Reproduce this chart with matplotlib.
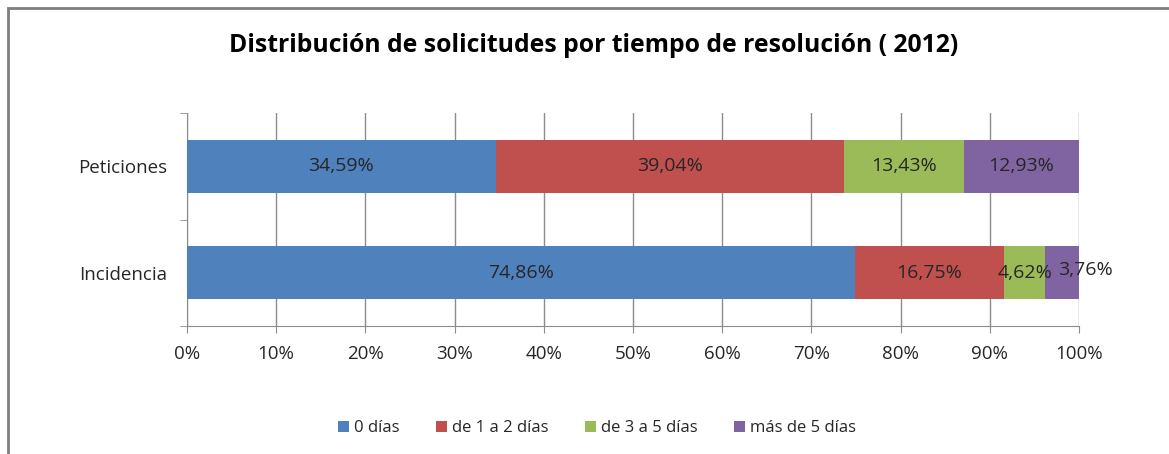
import matplotlib

matplotlib.use("Agg")
import matplotlib.pyplot as plt  # noqa: E402
from matplotlib.patches import Rectangle  # noqa: E402

categories = ["Incidencia", "Peticiones"]
series_names = ["0 días", "de 1 a 2 días", "de 3 a 5 días", "más de 5 días"]
dias_0 = [74.86, 34.59]
dias_1_2 = [16.75, 39.04]
dias_3_5 = [4.62, 13.43]
dias_mas_5 = [3.76, 12.93]
colors = ["#4F81BD", "#C0504D", "#9BBB59", "#8064A2"]
xticks = [0, 10, 20, 30, 40, 50, 60, 70, 80, 90, 100]

plt.rcParams["font.family"] = ["Open Sans", "DejaVu Sans"]
TEXT = "#262626"
GRID = "#8c8c8c"

fig = plt.figure(figsize=(11.69, 4.54), dpi=100)
ax = fig.add_axes([187 / 1169, 1 - 326 / 454, (1079 - 187) / 1169, (326 - 113) / 454])

# outer chart frame (only top and left edges are inside the picture)
fig.add_artist(Rectangle((8 / 1169, -0.1), 1.2, 1 - 8 / 454 + 0.1,
                         transform=fig.transFigure, fill=False,
                         edgecolor="#7f7f7f", lw=2))

left = [0.0, 0.0]
for name, vals, col in zip(series_names, [dias_0, dias_1_2, dias_3_5, dias_mas_5], colors):
    bars = ax.barh(range(len(categories)), vals, left=left, height=0.5,
                   color=col, label=name, zorder=3)
    for i, b in enumerate(bars):
        label = f"{vals[i]:.2f}%".replace(".", ",")
        yc = b.get_y() + b.get_height() / 2
        if vals[i] < 4 and name == series_names[-1]:
            # too narrow: the label spills out to the right of its segment
            ax.annotate(label, (b.get_x(), yc), xytext=(9, 2), textcoords="offset points",
                        ha="left", va="center", fontsize=14, color=TEXT, zorder=4,
                        annotation_clip=False)
        else:
            ax.text(b.get_x() + b.get_width() / 2, yc, label,
                    ha="center", va="center", fontsize=14, color=TEXT, zorder=4)
    left = [l + v for l, v in zip(left, vals)]

ax.set_xlim(0, 100)
ax.set_ylim(-0.5, 1.5)
ax.set_xticks(xticks)
ax.set_xticklabels([f"{t}%" for t in xticks], fontsize=13.5, color=TEXT)
ax.set_yticks([0, 1])
ax.set_yticklabels(categories, fontsize=13.5, color=TEXT)
ax.set_yticks([-0.5, 0.5, 1.5], minor=True)
ax.tick_params(axis="y", which="major", length=0, pad=14)
ax.tick_params(axis="y", which="minor", length=5, color=GRID)
ax.tick_params(axis="x", length=5, color=GRID, pad=9, direction="out")
ax.grid(axis="x", color=GRID, lw=1, zorder=0)
for side in ["top", "right"]:
    ax.spines[side].set_visible(False)
for side in ["left", "bottom"]:
    ax.spines[side].set_color(GRID)

fig.text(594 / 1169, 1 - 45 / 454, "Distribución de solicitudes por tiempo de resolución ( 2012)",
         ha="center", va="center", fontsize=17.8, fontweight="bold", color="black")

handles, labels = ax.get_legend_handles_labels()
fig.legend(handles, labels, loc="center", bbox_to_anchor=(597 / 1169, 1 - 428 / 454),
           ncol=4, frameon=False, fontsize=12, handlelength=0.65, handleheight=0.65,
           handletextpad=0.3, columnspacing=2.2, labelcolor=TEXT)

fig.savefig("out.png", dpi=100)
